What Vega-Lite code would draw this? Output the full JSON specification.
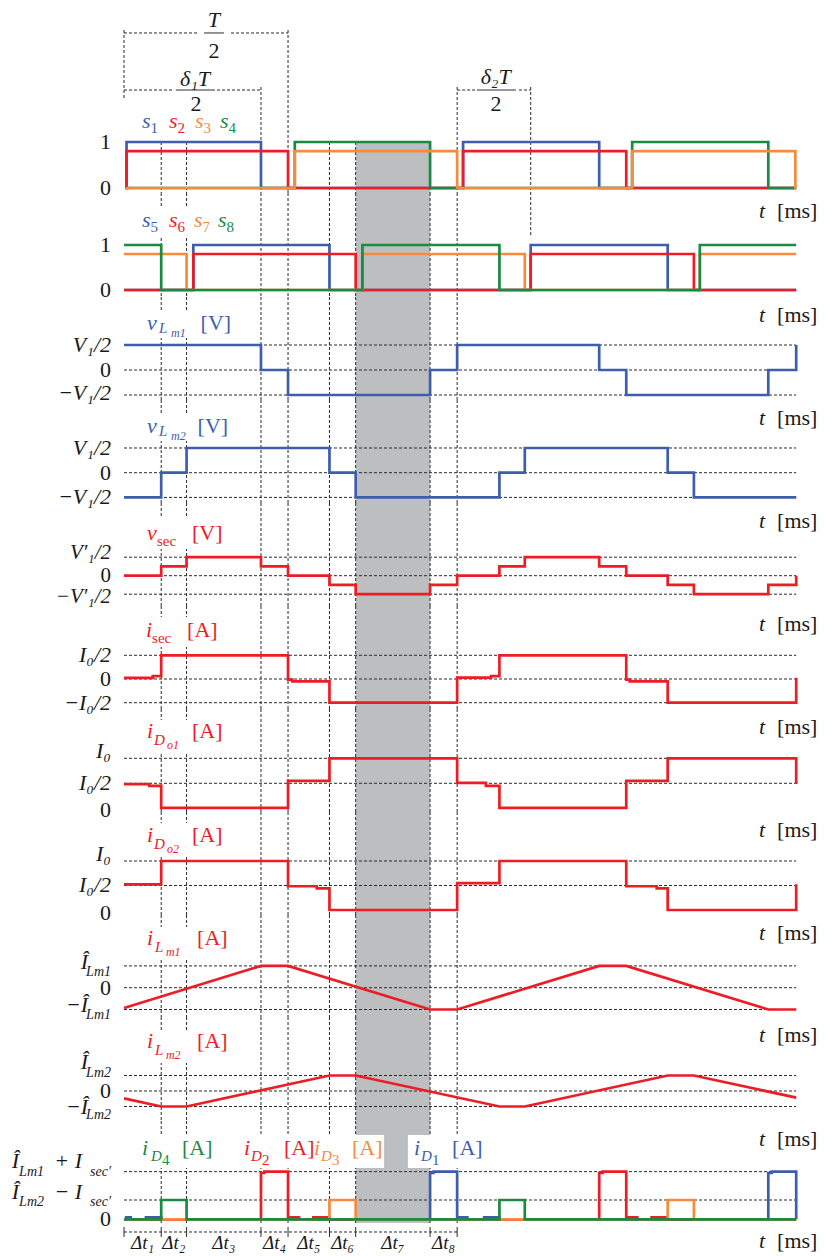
{
"$schema":"https://vega.github.io/schema/vega-lite/v6.json",
"padding":{"left":11,"top":5,"right":0,"bottom":0},
"background":"white",
"spacing":0,
"bounds":"flush",
"config":{"view":{"stroke":null},"text":{"font":"Liberation Serif"}},
"datasets":{
"shade":[{"t":13.7,"t2":18.1}],
"ev":[{"t":2.2,"g":"a"},{"t":3.7,"g":"a"},{"t":8.1,"g":"b"},{"t":9.7,"g":"c"},{"t":12.15,"g":"a"},{"t":13.7,"g":"a"},{"t":18.1,"g":"a"},{"t":19.7,"g":"b"},{"t":24.05,"g":"d"}],
"sig":[
{"p":1,"s":"s1","t":0.1,"v":0},{"p":1,"s":"s1","t":0.15,"v":1},{"p":1,"s":"s1","t":8.1,"v":0},{"p":1,"s":"s1","t":20.05,"v":1},{"p":1,"s":"s1","t":28.1,"v":0},{"p":1,"s":"s1","t":39.75,"v":0},
{"p":1,"s":"s2","t":0.1,"v":0},{"p":1,"s":"s2","t":0.15,"v":0.8},{"p":1,"s":"s2","t":9.7,"v":0},{"p":1,"s":"s2","t":20.05,"v":0.8},{"p":1,"s":"s2","t":29.7,"v":0},{"p":1,"s":"s2","t":39.75,"v":0},
{"p":1,"s":"s4","t":0.1,"v":0},{"p":1,"s":"s4","t":10.1,"v":1},{"p":1,"s":"s4","t":18.1,"v":0},{"p":1,"s":"s4","t":30.05,"v":1},{"p":1,"s":"s4","t":38.1,"v":0},{"p":1,"s":"s4","t":39.75,"v":0},
{"p":1,"s":"s3","t":0.1,"v":0},{"p":1,"s":"s3","t":10.1,"v":0.8},{"p":1,"s":"s3","t":19.7,"v":0},{"p":1,"s":"s3","t":30.05,"v":0.8},{"p":1,"s":"s3","t":39.7,"v":0},{"p":1,"s":"s3","t":39.75,"v":0},
{"p":2,"s":"s5","t":0,"v":0},{"p":2,"s":"s5","t":4.1,"v":1},{"p":2,"s":"s5","t":12.15,"v":0},{"p":2,"s":"s5","t":24.05,"v":1},{"p":2,"s":"s5","t":32.15,"v":0},{"p":2,"s":"s5","t":39.75,"v":0},
{"p":2,"s":"s6","t":0,"v":0},{"p":2,"s":"s6","t":4.1,"v":0.8},{"p":2,"s":"s6","t":13.7,"v":0},{"p":2,"s":"s6","t":24.05,"v":0.8},{"p":2,"s":"s6","t":33.7,"v":0},{"p":2,"s":"s6","t":39.75,"v":0},
{"p":2,"s":"s7","t":0,"v":0.8},{"p":2,"s":"s7","t":3.7,"v":0},{"p":2,"s":"s7","t":14.1,"v":0.8},{"p":2,"s":"s7","t":23.7,"v":0},{"p":2,"s":"s7","t":34.05,"v":0.8},{"p":2,"s":"s7","t":39.75,"v":0.8},
{"p":2,"s":"s8","t":0,"v":1},{"p":2,"s":"s8","t":2.2,"v":0},{"p":2,"s":"s8","t":14.1,"v":1},{"p":2,"s":"s8","t":22.2,"v":0},{"p":2,"s":"s8","t":34.05,"v":1},{"p":2,"s":"s8","t":39.75,"v":1},
{"p":3,"s":"vLm1","t":0,"v":1},{"p":3,"s":"vLm1","t":8.1,"v":0},{"p":3,"s":"vLm1","t":9.7,"v":-1},{"p":3,"s":"vLm1","t":18.1,"v":0},{"p":3,"s":"vLm1","t":19.7,"v":1},{"p":3,"s":"vLm1","t":28.1,"v":0},{"p":3,"s":"vLm1","t":29.7,"v":-1},{"p":3,"s":"vLm1","t":38.1,"v":0},{"p":3,"s":"vLm1","t":39.75,"v":1},
{"p":4,"s":"vLm2","t":0,"v":-1},{"p":4,"s":"vLm2","t":2.2,"v":0},{"p":4,"s":"vLm2","t":3.7,"v":1},{"p":4,"s":"vLm2","t":12.15,"v":0},{"p":4,"s":"vLm2","t":13.7,"v":-1},{"p":4,"s":"vLm2","t":22.2,"v":0},{"p":4,"s":"vLm2","t":23.7,"v":1},{"p":4,"s":"vLm2","t":32.15,"v":0},{"p":4,"s":"vLm2","t":33.7,"v":-1},{"p":4,"s":"vLm2","t":39.75,"v":-1},
{"p":5,"s":"vsec","t":0,"v":0},{"p":5,"s":"vsec","t":2.2,"v":0.5},{"p":5,"s":"vsec","t":3.7,"v":1},{"p":5,"s":"vsec","t":8.1,"v":0.5},{"p":5,"s":"vsec","t":9.7,"v":0},{"p":5,"s":"vsec","t":12.15,"v":-0.5},{"p":5,"s":"vsec","t":13.7,"v":-1},{"p":5,"s":"vsec","t":18.1,"v":-0.5},{"p":5,"s":"vsec","t":19.7,"v":0},{"p":5,"s":"vsec","t":22.2,"v":0.5},{"p":5,"s":"vsec","t":23.7,"v":1},{"p":5,"s":"vsec","t":28.1,"v":0.5},{"p":5,"s":"vsec","t":29.7,"v":0},{"p":5,"s":"vsec","t":32.15,"v":-0.5},{"p":5,"s":"vsec","t":33.7,"v":-1},{"p":5,"s":"vsec","t":38.1,"v":-0.5},{"p":5,"s":"vsec","t":39.75,"v":0},
{"p":6,"s":"isec","t":0,"v":0.05},{"p":6,"s":"isec","t":1.7,"v":0.12},{"p":6,"s":"isec","t":2.2,"v":1},{"p":6,"s":"isec","t":9.7,"v":-0.03},{"p":6,"s":"isec","t":9.95,"v":-0.1},{"p":6,"s":"isec","t":12.15,"v":-1},{"p":6,"s":"isec","t":19.7,"v":0.06},{"p":6,"s":"isec","t":21.7,"v":0.12},{"p":6,"s":"isec","t":22.2,"v":1},{"p":6,"s":"isec","t":29.7,"v":-0.03},{"p":6,"s":"isec","t":29.9,"v":-0.1},{"p":6,"s":"isec","t":32.15,"v":-1},{"p":6,"s":"isec","t":39.75,"v":0.05},
{"p":7,"s":"iDo1","t":0,"v":0.97},{"p":7,"s":"iDo1","t":1.5,"v":0.9},{"p":7,"s":"iDo1","t":2.2,"v":0.02},{"p":7,"s":"iDo1","t":9.7,"v":1.1},{"p":7,"s":"iDo1","t":12.15,"v":2},{"p":7,"s":"iDo1","t":19.7,"v":1.02},{"p":7,"s":"iDo1","t":21.4,"v":0.9},{"p":7,"s":"iDo1","t":22.2,"v":0.02},{"p":7,"s":"iDo1","t":29.7,"v":1.1},{"p":7,"s":"iDo1","t":32.15,"v":2},{"p":7,"s":"iDo1","t":39.75,"v":0.97},
{"p":8,"s":"iDo2","t":0,"v":1.05},{"p":8,"s":"iDo2","t":2.2,"v":2},{"p":8,"s":"iDo2","t":9.7,"v":0.97},{"p":8,"s":"iDo2","t":11.4,"v":0.88},{"p":8,"s":"iDo2","t":12.15,"v":0},{"p":8,"s":"iDo2","t":19.7,"v":1.1},{"p":8,"s":"iDo2","t":22.2,"v":2},{"p":8,"s":"iDo2","t":29.7,"v":0.97},{"p":8,"s":"iDo2","t":31.5,"v":0.88},{"p":8,"s":"iDo2","t":32.15,"v":0},{"p":8,"s":"iDo2","t":39.75,"v":1.05},
{"p":9,"s":"iLm1","t":0,"v":-0.93},{"p":9,"s":"iLm1","t":8.1,"v":1},{"p":9,"s":"iLm1","t":9.7,"v":1},{"p":9,"s":"iLm1","t":18.1,"v":-1},{"p":9,"s":"iLm1","t":19.7,"v":-1},{"p":9,"s":"iLm1","t":28.1,"v":1},{"p":9,"s":"iLm1","t":29.7,"v":1},{"p":9,"s":"iLm1","t":38.1,"v":-1},{"p":9,"s":"iLm1","t":39.75,"v":-1},
{"p":10,"s":"iLm2","t":0,"v":-0.48},{"p":10,"s":"iLm2","t":2.2,"v":-1},{"p":10,"s":"iLm2","t":3.7,"v":-1},{"p":10,"s":"iLm2","t":12.15,"v":1},{"p":10,"s":"iLm2","t":13.7,"v":1},{"p":10,"s":"iLm2","t":22.2,"v":-1},{"p":10,"s":"iLm2","t":23.7,"v":-1},{"p":10,"s":"iLm2","t":32.15,"v":1},{"p":10,"s":"iLm2","t":33.7,"v":1},{"p":10,"s":"iLm2","t":39.75,"v":-0.43},
{"p":11,"s":"iD1","t":0.05,"v":0.1},{"p":11,"s":"iD1","t":0.4,"v":0},{"p":11,"s":"iD1","t":1.3,"v":0.1},{"p":11,"s":"iD1","t":2.2,"v":0},{"p":11,"s":"iD1","t":18.1,"v":2.4},{"p":11,"s":"iD1","t":18.3,"v":2.47},{"p":11,"s":"iD1","t":19.7,"v":0.1},{"p":11,"s":"iD1","t":20.3,"v":0},{"p":11,"s":"iD1","t":21.3,"v":0.1},{"p":11,"s":"iD1","t":22.2,"v":0},{"p":11,"s":"iD1","t":38.1,"v":2.4},{"p":11,"s":"iD1","t":38.3,"v":2.47},{"p":11,"s":"iD1","t":39.75,"v":0},
{"p":11,"s":"iD2","t":0,"v":0},{"p":11,"s":"iD2","t":8.1,"v":2.4},{"p":11,"s":"iD2","t":8.3,"v":2.47},{"p":11,"s":"iD2","t":9.7,"v":0.1},{"p":11,"s":"iD2","t":10.35,"v":0},{"p":11,"s":"iD2","t":11.2,"v":0.1},{"p":11,"s":"iD2","t":12.15,"v":0},{"p":11,"s":"iD2","t":28.1,"v":2.4},{"p":11,"s":"iD2","t":28.3,"v":2.47},{"p":11,"s":"iD2","t":29.7,"v":0.1},{"p":11,"s":"iD2","t":30.35,"v":0},{"p":11,"s":"iD2","t":31.2,"v":0.1},{"p":11,"s":"iD2","t":32.15,"v":0},{"p":11,"s":"iD2","t":39.75,"v":0},
{"p":11,"s":"iD3","t":0,"v":0},{"p":11,"s":"iD3","t":12.15,"v":1},{"p":11,"s":"iD3","t":13.7,"v":0},{"p":11,"s":"iD3","t":32.15,"v":1},{"p":11,"s":"iD3","t":33.7,"v":0},{"p":11,"s":"iD3","t":39.75,"v":0},
{"p":11,"s":"iD4","t":0,"v":0},{"p":11,"s":"iD4","t":2.2,"v":1},{"p":11,"s":"iD4","t":3.7,"v":0},{"p":11,"s":"iD4","t":22.2,"v":1},{"p":11,"s":"iD4","t":23.7,"v":0},{"p":11,"s":"iD4","t":39.75,"v":0}
],
"lev":[
{"p":3,"v":1,"t":0,"t2":39.75},{"p":3,"v":0,"t":0,"t2":39.75},{"p":3,"v":-1,"t":0,"t2":39.75},
{"p":4,"v":1,"t":0,"t2":39.75},{"p":4,"v":0,"t":0,"t2":39.75},{"p":4,"v":-1,"t":0,"t2":39.75},
{"p":5,"v":1,"t":0,"t2":39.75},{"p":5,"v":0,"t":0,"t2":39.75},{"p":5,"v":-1,"t":0,"t2":39.75},
{"p":6,"v":1,"t":0,"t2":39.75},{"p":6,"v":0,"t":0,"t2":39.75},{"p":6,"v":-1,"t":0,"t2":39.75},
{"p":7,"v":2,"t":0,"t2":39.75},{"p":7,"v":1,"t":0,"t2":39.75},
{"p":8,"v":2,"t":0,"t2":39.75},{"p":8,"v":1,"t":0,"t2":39.75},
{"p":9,"v":1,"t":0,"t2":39.75},{"p":9,"v":0,"t":0,"t2":39.75},{"p":9,"v":-1,"t":0,"t2":39.75},
{"p":10,"v":1,"t":0,"t2":39.75},{"p":10,"v":0,"t":0,"t2":39.75},{"p":10,"v":-1,"t":0,"t2":39.75},
{"p":11,"v":2.47,"t":0,"t2":39.75},{"p":11,"v":1,"t":0,"t2":39.75}
],
"yl":[
{"p":1,"t":0,"v":1,"txt":"1","k":"z"},{"p":1,"t":0,"v":0,"txt":"0","k":"z"},
{"p":2,"t":0,"v":1,"txt":"1","k":"z"},{"p":2,"t":0,"v":0,"txt":"0","k":"z"},
{"p":3,"t":0,"v":1,"txt":"V₁/2","k":"a"},{"p":3,"t":0,"v":0,"txt":"0","k":"z"},{"p":3,"t":0,"v":-0.92,"txt":"−V₁/2","k":"a"},
{"p":4,"t":0,"v":1,"txt":"V₁/2","k":"a"},{"p":4,"t":0,"v":0,"txt":"0","k":"z"},{"p":4,"t":0,"v":-1,"txt":"−V₁/2","k":"a"},
{"p":5,"t":0,"v":1.25,"txt":"V′₁/2","k":"a"},{"p":5,"t":0,"v":0,"txt":"0","k":"z"},{"p":5,"t":0,"v":-1.15,"txt":"−V′₁/2","k":"a"},
{"p":6,"t":0,"v":1,"txt":"I₀/2","k":"a"},{"p":6,"t":0,"v":0,"txt":"0","k":"z"},{"p":6,"t":0,"v":-1,"txt":"−I₀/2","k":"a"},
{"p":7,"t":0,"v":2.3,"txt":"I₀","k":"a"},{"p":7,"t":0,"v":1,"txt":"I₀/2","k":"a"},{"p":7,"t":0,"v":-0.05,"txt":"0","k":"z"},
{"p":8,"t":0,"v":2.3,"txt":"I₀","k":"a"},{"p":8,"t":0,"v":1.02,"txt":"I₀/2","k":"a"},{"p":8,"t":0,"v":-0.12,"txt":"0","k":"z"},
{"p":9,"t":0,"v":1.18,"txt":"Î","k":"c"},{"p":9,"t":0,"v":0.72,"txt":"Lm1","k":"b"},{"p":9,"t":0,"v":0,"txt":"0","k":"z"},{"p":9,"t":0,"v":-0.79,"txt":"−Î","k":"c"},{"p":9,"t":0,"v":-1.25,"txt":"Lm1","k":"b"},
{"p":10,"t":0,"v":1.87,"txt":"Î","k":"c"},{"p":10,"t":0,"v":1.16,"txt":"Lm2","k":"b"},{"p":10,"t":0,"v":0,"txt":"0","k":"z"},{"p":10,"t":0,"v":-1.03,"txt":"−Î","k":"c"},{"p":10,"t":0,"v":-1.55,"txt":"Lm2","k":"b"},
{"p":11,"t":0,"v":3.02,"txt":"Î","k":"d"},{"p":11,"t":0,"v":2.45,"txt":"Lm1","k":"e"},{"p":11,"t":0,"v":3.02,"txt":"+ I","k":"f"},{"p":11,"t":0,"v":2.45,"txt":"sec′","k":"b"},
{"p":11,"t":0,"v":1.42,"txt":"Î","k":"d"},{"p":11,"t":0,"v":0.89,"txt":"Lm2","k":"e"},{"p":11,"t":0,"v":1.42,"txt":"− I","k":"f"},{"p":11,"t":0,"v":0.89,"txt":"sec′","k":"b"},
{"p":11,"t":0,"v":0,"txt":"0","k":"z"}
],
"ann":[
{"p":1,"t":5.32,"v":3.5,"txt":"T","k":"c","s":"blk"},{"p":1,"t":5.32,"v":2.826,"txt":"2","k":"cn","s":"blk"},
{"p":1,"t":4.2,"v":2.217,"txt":"δ₁T","k":"c","s":"blk"},{"p":1,"t":4.26,"v":1.674,"txt":"2","k":"cn","s":"blk"},
{"p":1,"t":21.98,"v":2.261,"txt":"δ₂T","k":"c","s":"blk"},{"p":1,"t":22.0,"v":1.674,"txt":"2","k":"cn","s":"blk"},
{"p":1,"t":1.06,"v":1.304,"txt":"s","k":"m","s":"s1"},{"p":1,"t":1.56,"v":1.195,"txt":"1","k":"sn","s":"s1"},
{"p":1,"t":2.66,"v":1.304,"txt":"s","k":"m","s":"s2"},{"p":1,"t":3.16,"v":1.195,"txt":"2","k":"sn","s":"s2"},
{"p":1,"t":4.2,"v":1.304,"txt":"s","k":"m","s":"s3"},{"p":1,"t":4.7,"v":1.195,"txt":"3","k":"sn","s":"s3"},
{"p":1,"t":5.68,"v":1.304,"txt":"s","k":"m","s":"s4"},{"p":1,"t":6.18,"v":1.195,"txt":"4","k":"sn","s":"s4"},
{"p":1,"t":37.55,"v":-0.652,"txt":"t","k":"m","s":"blk"},{"p":1,"t":38.62,"v":-0.652,"txt":"[ms]","k":"mn","s":"blk"},
{"p":2,"t":1.06,"v":1.4,"txt":"s","k":"m","s":"s5"},{"p":2,"t":1.56,"v":1.289,"txt":"5","k":"sn","s":"s5"},
{"p":2,"t":2.66,"v":1.4,"txt":"s","k":"m","s":"s6"},{"p":2,"t":3.16,"v":1.289,"txt":"6","k":"sn","s":"s6"},
{"p":2,"t":4.14,"v":1.4,"txt":"s","k":"m","s":"s7"},{"p":2,"t":4.64,"v":1.289,"txt":"7","k":"sn","s":"s7"},
{"p":2,"t":5.56,"v":1.4,"txt":"s","k":"m","s":"s8"},{"p":2,"t":6.06,"v":1.289,"txt":"8","k":"sn","s":"s8"},
{"p":2,"t":37.55,"v":-0.711,"txt":"t","k":"m","s":"blk"},{"p":2,"t":38.62,"v":-0.711,"txt":"[ms]","k":"mn","s":"blk"},
{"p":3,"t":1.36,"v":1.6,"txt":"v","k":"m","s":"vLm1"},{"p":3,"t":2.07,"v":1.48,"txt":"L","k":"s","s":"vLm1"},{"p":3,"t":2.78,"v":1.32,"txt":"m1","k":"ss","s":"vLm1"},{"p":3,"t":4.53,"v":1.6,"txt":"[V]","k":"mn","s":"vLm1"},
{"p":3,"t":37.55,"v":-2.2,"txt":"t","k":"m","s":"blk"},{"p":3,"t":38.62,"v":-2.2,"txt":"[ms]","k":"mn","s":"blk"},
{"p":4,"t":1.36,"v":1.607,"txt":"v","k":"m","s":"vLm2"},{"p":4,"t":2.07,"v":1.486,"txt":"L","k":"s","s":"vLm2"},{"p":4,"t":2.78,"v":1.324,"txt":"m2","k":"ss","s":"vLm2"},{"p":4,"t":4.35,"v":1.607,"txt":"[V]","k":"mn","s":"vLm2"},
{"p":4,"t":37.55,"v":-2.239,"txt":"t","k":"m","s":"blk"},{"p":4,"t":38.62,"v":-2.239,"txt":"[ms]","k":"mn","s":"blk"},
{"p":5,"t":1.36,"v":1.93,"txt":"v","k":"m","s":"vsec"},{"p":5,"t":1.95,"v":1.6,"txt":"sec","k":"sn","s":"vsec"},{"p":5,"t":4.02,"v":1.93,"txt":"[V]","k":"mn","s":"vsec"},
{"p":5,"t":37.55,"v":-2.989,"txt":"t","k":"m","s":"blk"},{"p":5,"t":38.62,"v":-2.989,"txt":"[ms]","k":"mn","s":"blk"},
{"p":6,"t":1.3,"v":1.772,"txt":"i","k":"m","s":"isec"},{"p":6,"t":1.66,"v":1.519,"txt":"sec","k":"sn","s":"isec"},{"p":6,"t":3.73,"v":1.772,"txt":"[A]","k":"mn","s":"isec"},
{"p":6,"t":37.55,"v":-2.321,"txt":"t","k":"m","s":"blk"},{"p":6,"t":38.62,"v":-2.321,"txt":"[ms]","k":"mn","s":"blk"},
{"p":7,"t":1.36,"v":2.812,"txt":"i","k":"m","s":"iDo1"},{"p":7,"t":1.77,"v":2.532,"txt":"D","k":"s","s":"iDo1"},{"p":7,"t":2.54,"v":2.372,"txt":"o1","k":"ss","s":"iDo1"},{"p":7,"t":4.02,"v":2.812,"txt":"[A]","k":"mn","s":"iDo1"},
{"p":7,"t":37.55,"v":-1.148,"txt":"t","k":"m","s":"blk"},{"p":7,"t":38.62,"v":-1.148,"txt":"[ms]","k":"mn","s":"blk"},
{"p":8,"t":1.36,"v":2.776,"txt":"i","k":"m","s":"iDo2"},{"p":8,"t":1.77,"v":2.49,"txt":"D","k":"s","s":"iDo2"},{"p":8,"t":2.54,"v":2.327,"txt":"o2","k":"ss","s":"iDo2"},{"p":8,"t":4.02,"v":2.776,"txt":"[A]","k":"mn","s":"iDo2"},
{"p":8,"t":37.55,"v":-1.224,"txt":"t","k":"m","s":"blk"},{"p":8,"t":38.62,"v":-1.224,"txt":"[ms]","k":"mn","s":"blk"},
{"p":9,"t":1.36,"v":1.959,"txt":"i","k":"m","s":"iLm1"},{"p":9,"t":1.83,"v":1.638,"txt":"L","k":"s","s":"iLm1"},{"p":9,"t":2.48,"v":1.454,"txt":"m1","k":"ss","s":"iLm1"},{"p":9,"t":4.32,"v":1.959,"txt":"[A]","k":"mn","s":"iLm1"},
{"p":9,"t":37.55,"v":-2.491,"txt":"t","k":"m","s":"blk"},{"p":9,"t":38.62,"v":-2.491,"txt":"[ms]","k":"mn","s":"blk"},
{"p":10,"t":1.36,"v":2.774,"txt":"i","k":"m","s":"iLm2"},{"p":10,"t":1.83,"v":2.323,"txt":"L","k":"s","s":"iLm2"},{"p":10,"t":2.48,"v":2.065,"txt":"m2","k":"ss","s":"iLm2"},{"p":10,"t":4.32,"v":2.774,"txt":"[A]","k":"mn","s":"iLm2"},
{"p":10,"t":37.55,"v":-3.548,"txt":"t","k":"m","s":"blk"},{"p":10,"t":38.62,"v":-3.548,"txt":"[ms]","k":"mn","s":"blk"},
{"p":11,"t":1.06,"v":3.332,"txt":"i","k":"m","s":"iD4"},{"p":11,"t":1.6,"v":3.021,"txt":"D","k":"s","s":"iD4"},{"p":11,"t":2.25,"v":2.813,"txt":"4","k":"sn","s":"iD4"},{"p":11,"t":3.43,"v":3.332,"txt":"[A]","k":"mn","s":"iD4"},
{"p":11,"t":7.1,"v":3.332,"txt":"i","k":"m","s":"iD2"},{"p":11,"t":7.51,"v":3.021,"txt":"D","k":"s","s":"iD2"},{"p":11,"t":8.16,"v":2.813,"txt":"2","k":"sn","s":"iD2"},{"p":11,"t":9.46,"v":3.332,"txt":"[A]","k":"mn","s":"iD2"},
{"p":11,"t":11.24,"v":3.332,"txt":"i","k":"m","s":"iD3"},{"p":11,"t":11.65,"v":3.021,"txt":"D","k":"s","s":"iD3"},{"p":11,"t":12.3,"v":2.813,"txt":"3","k":"sn","s":"iD3"},{"p":11,"t":13.48,"v":3.332,"txt":"[A]","k":"mn","s":"iD3"},
{"p":11,"t":17.15,"v":3.332,"txt":"i","k":"m","s":"iD1"},{"p":11,"t":17.56,"v":3.021,"txt":"D","k":"s","s":"iD1"},{"p":11,"t":18.21,"v":2.813,"txt":"1","k":"sn","s":"iD1"},{"p":11,"t":19.4,"v":3.332,"txt":"[A]","k":"mn","s":"iD1"},
{"p":11,"t":37.55,"v":-1.487,"txt":"t","k":"m","s":"blk"},{"p":11,"t":38.62,"v":-1.487,"txt":"[ms]","k":"mn","s":"blk"},
{"p":11,"t":1.1,"v":-1.54,"txt":"Δt₁","k":"d","s":"blk"},{"p":11,"t":2.95,"v":-1.54,"txt":"Δt₂","k":"d","s":"blk"},{"p":11,"t":5.9,"v":-1.54,"txt":"Δt₃","k":"d","s":"blk"},{"p":11,"t":8.9,"v":-1.54,"txt":"Δt₄","k":"d","s":"blk"},
{"p":11,"t":10.93,"v":-1.54,"txt":"Δt₅","k":"d","s":"blk"},{"p":11,"t":12.93,"v":-1.54,"txt":"Δt₆","k":"d","s":"blk"},{"p":11,"t":15.9,"v":-1.54,"txt":"Δt₇","k":"d","s":"blk"},{"p":11,"t":18.9,"v":-1.54,"txt":"Δt₈","k":"d","s":"blk"}
],
"box":[
{"p":2,"t":0.89,"t2":6.6,"v":1.844,"v2":1.178},
{"p":3,"t":1.06,"t2":6.39,"v":2.4,"v2":1.28},
{"p":4,"t":1.06,"t2":6.21,"v":2.42,"v2":1.28},
{"p":5,"t":1.06,"t2":5.91,"v":3.23,"v2":1.44},
{"p":6,"t":1.06,"t2":5.38,"v":2.62,"v2":1.35},
{"p":7,"t":1.06,"t2":5.8,"v":3.53,"v2":2.22},
{"p":8,"t":1.06,"t2":5.8,"v":3.55,"v2":2.2},
{"p":9,"t":1.06,"t2":5.97,"v":2.79,"v2":1.27},
{"p":10,"t":1.06,"t2":5.97,"v":3.94,"v2":1.81},
{"p":11,"t":0.95,"t2":5.26,"v":4.37,"v2":2.66},
{"p":11,"t":6.86,"t2":11.12,"v":4.37,"v2":2.66},
{"p":11,"t":11.12,"t2":15.38,"v":4.37,"v2":2.66},
{"p":11,"t":16.79,"t2":21.23,"v":4.37,"v2":2.66}
],
"br":[
{"p":1,"t":0,"t2":4.43,"v":3.37,"v2":3.37,"k":"d"},{"p":1,"t":6.33,"t2":9.7,"v":3.37,"v2":3.37,"k":"d"},{"p":1,"t":4.73,"t2":5.91,"v":3.37,"v2":3.37,"k":"s"},
{"p":1,"t":0,"t2":2.96,"v":2.13,"v2":2.13,"k":"d"},{"p":1,"t":5.5,"t2":8.1,"v":2.13,"v2":2.13,"k":"d"},{"p":1,"t":3.07,"t2":5.38,"v":2.13,"v2":2.13,"k":"s"},
{"p":1,"t":19.7,"t2":20.82,"v":2.13,"v2":2.13,"k":"d"},{"p":1,"t":23.36,"t2":24.05,"v":2.13,"v2":2.13,"k":"d"},{"p":1,"t":20.87,"t2":23.18,"v":2.13,"v2":2.13,"k":"s"},
{"p":1,"t":0,"t2":0,"v":3.435,"v2":1.913,"k":"d"},
{"p":11,"t":0,"t2":19.7,"v":-0.658,"v2":-0.658,"k":"d"},
{"p":11,"t":0,"t2":0,"v":-0.399,"v2":-0.917,"k":"s"},{"p":11,"t":2.2,"t2":2.2,"v":-0.399,"v2":-0.917,"k":"s"},{"p":11,"t":3.7,"t2":3.7,"v":-0.399,"v2":-0.917,"k":"s"},
{"p":11,"t":8.1,"t2":8.1,"v":-0.399,"v2":-0.917,"k":"s"},{"p":11,"t":9.7,"t2":9.7,"v":-0.399,"v2":-0.917,"k":"s"},{"p":11,"t":12.15,"t2":12.15,"v":-0.399,"v2":-0.917,"k":"s"},
{"p":11,"t":13.7,"t2":13.7,"v":-0.399,"v2":-0.917,"k":"s"},{"p":11,"t":18.1,"t2":18.1,"v":-0.399,"v2":-0.917,"k":"s"},{"p":11,"t":19.7,"t2":19.7,"v":-0.399,"v2":-0.917,"k":"s"}
]
},
"vconcat":[
{"width":704,"height":188,
"encoding":{"x":{"field":"t","type":"quantitative","axis":null,"scale":{"domain":[0,41.63],"nice":false,"zero":false}}},
"layer":[
{"data":{"name":"shade"},"mark":{"type":"rect","color":"#bcbec0"},"encoding":{"x2":{"field":"t2"},"y":{"datum":1,"axis":null},"y2":{"datum":-0.1087}}},
{"data":{"name":"ev"},"transform":[{"filter":"datum.g=='a'"}],"mark":{"type":"rule","color":"#2a2a2a","strokeWidth":1,"strokeDash":[3,2]},"encoding":{"y":{"datum":1,"axis":null},"y2":{"datum":-0.1087}}},
{"data":{"name":"ev"},"transform":[{"filter":"datum.g=='b'||datum.g=='d'"}],"mark":{"type":"rule","color":"#2a2a2a","strokeWidth":1,"strokeDash":[3,2]},"encoding":{"y":{"datum":2.196,"axis":null},"y2":{"datum":-0.1087}}},
{"data":{"name":"ev"},"transform":[{"filter":"datum.g=='c'"}],"mark":{"type":"rule","color":"#2a2a2a","strokeWidth":1,"strokeDash":[3,2]},"encoding":{"y":{"datum":3.435,"axis":null},"y2":{"datum":-0.1087}}},
{"data":{"name":"br"},"transform":[{"filter":"datum.p==1"}],"mark":{"type":"rule","color":"#2a2a2a","strokeWidth":1},"encoding":{"x2":{"field":"t2"},"y":{"field":"v","type":"quantitative","axis":null},"y2":{"field":"v2"},"strokeDash":{"field":"k","type":"nominal","legend":null,"scale":{"domain":["d","s"],"range":[[3,2],[1,0]]}}}},
{"data":{"name":"sig"},"transform":[{"filter":"datum.p==1"}],"mark":{"type":"line","interpolate":"step-after","strokeWidth":2.7},"encoding":{"y":{"field":"v","type":"quantitative","axis":null,"scale":{"domain":[-0.1087,3.9783],"nice":false,"zero":false}},"color":{"field":"s","type":"nominal","legend":null,"scale":{"domain":["s1","s2","s3","s4","s5","s6","s7","s8","vLm1","vLm2","vsec","isec","iDo1","iDo2","iLm1","iLm2","iD1","iD2","iD3","iD4","blk"],"range":["#3e5ead","#ec1d25","#f68b3c","#1b8a43","#3e5ead","#ec1d25","#f68b3c","#1b8a43","#3e5ead","#3e5ead","#ec1d25","#ec1d25","#ec1d25","#ec1d25","#ec1d25","#ec1d25","#3e5ead","#ec1d25","#f68b3c","#1b8a43","#1a1a1a"]}}}},
{"data":{"values":[{}]},"mark":{"type":"rule","color":"#111","strokeWidth":3},"encoding":{"x":{"datum":0,"axis":null},"x2":{"datum":41.2},"y":{"datum":-0.0761,"axis":null}}},
{"data":{"values":[{}]},"mark":{"type":"rule","color":"#111","strokeWidth":3},"encoding":{"x":{"datum":0,"axis":null},"y":{"datum":-0.0761,"axis":null},"y2":{"datum":1.761}}},
{"data":{"values":[{}]},"mark":{"type":"point","shape":"M1,0L-0.9,-0.6L-0.45,0L-0.9,0.6Z","filled":true,"opacity":1,"color":"#111","size":170,"strokeWidth":0},"encoding":{"x":{"datum":41.2,"axis":null},"y":{"datum":-0.0761,"axis":null}}},
{"data":{"values":[{}]},"mark":{"type":"point","shape":"M0,-1L0.6,0.9L0,0.45L-0.6,0.9Z","filled":true,"opacity":1,"color":"#111","size":170,"strokeWidth":0},"encoding":{"x":{"datum":0,"axis":null},"y":{"datum":1.761,"axis":null}}},
{"data":{"name":"yl"},"transform":[{"filter":"datum.p==1"}],"mark":{"type":"text","align":"right","baseline":"middle","font":"Liberation Serif","color":"#1a1a1a","dx":{"expr":"datum.k=='c'?-36:datum.k=='d'?-105:datum.k=='e'?-80:datum.k=='f'?-42:-13"},"fontSize":{"expr":"(datum.k=='b'||datum.k=='e')?14:22"},"fontStyle":{"expr":"datum.k=='z'?'normal':'italic'"}},"encoding":{"y":{"field":"v","type":"quantitative","axis":null},"text":{"field":"txt"}}},
{"data":{"name":"ann"},"transform":[{"filter":"datum.p==1"}],"mark":{"type":"text","baseline":"alphabetic","font":"Liberation Serif","align":{"expr":"(datum.k=='c'||datum.k=='cn'||datum.k=='d')?'center':'left'"},"fontSize":{"expr":"(datum.k=='s'||datum.k=='sn')?15:datum.k=='ss'?12:datum.k=='d'?19:22"},"fontStyle":{"expr":"(datum.k=='mn'||datum.k=='sn'||datum.k=='cn')?'normal':'italic'"}},"encoding":{"y":{"field":"v","type":"quantitative","axis":null},"text":{"field":"txt"},"color":{"field":"s","type":"nominal","legend":null}}}
]},
{"width":704,"height":104,
"encoding":{"x":{"field":"t","type":"quantitative","axis":null,"scale":{"domain":[0,41.63],"nice":false,"zero":false}}},
"layer":[
{"data":{"name":"shade"},"mark":{"type":"rect","color":"#bcbec0"},"encoding":{"x2":{"field":"t2"}}},
{"data":{"name":"ev"},"transform":[{"filter":"datum.g!='d'"}],"mark":{"type":"rule","color":"#2a2a2a","strokeWidth":1,"strokeDash":[3,2]},"encoding":{}},
{"data":{"name":"ev"},"transform":[{"filter":"datum.g=='d'"}],"mark":{"type":"rule","color":"#2a2a2a","strokeWidth":1,"strokeDash":[3,2]},"encoding":{"y":{"datum":1.22,"axis":null},"y2":{"datum":2.1556}}},
{"data":{"name":"box"},"transform":[{"filter":"datum.p==2"}],"mark":{"type":"rect","color":"white"},"encoding":{"x2":{"field":"t2"},"y":{"field":"v","type":"quantitative","axis":null},"y2":{"field":"v2"}}},
{"data":{"name":"sig"},"transform":[{"filter":"datum.p==2"}],"mark":{"type":"line","interpolate":"step-after","strokeWidth":2.7},"encoding":{"y":{"field":"v","type":"quantitative","axis":null,"scale":{"domain":[-0.1556,2.1556],"nice":false,"zero":false}},"color":{"field":"s","type":"nominal","legend":null,"scale":{"domain":["s1","s2","s3","s4","s5","s6","s7","s8","vLm1","vLm2","vsec","isec","iDo1","iDo2","iLm1","iLm2","iD1","iD2","iD3","iD4","blk"],"range":["#3e5ead","#ec1d25","#f68b3c","#1b8a43","#3e5ead","#ec1d25","#f68b3c","#1b8a43","#3e5ead","#3e5ead","#ec1d25","#ec1d25","#ec1d25","#ec1d25","#ec1d25","#ec1d25","#3e5ead","#ec1d25","#f68b3c","#1b8a43","#1a1a1a"]}}}},
{"data":{"values":[{}]},"mark":{"type":"rule","color":"#111","strokeWidth":3},"encoding":{"x":{"datum":0,"axis":null},"x2":{"datum":41.2},"y":{"datum":-0.1222,"axis":null}}},
{"data":{"values":[{}]},"mark":{"type":"rule","color":"#111","strokeWidth":3},"encoding":{"x":{"datum":0,"axis":null},"y":{"datum":-0.1222,"axis":null},"y2":{"datum":1.778}}},
{"data":{"values":[{}]},"mark":{"type":"point","shape":"M1,0L-0.9,-0.6L-0.45,0L-0.9,0.6Z","filled":true,"opacity":1,"color":"#111","size":170,"strokeWidth":0},"encoding":{"x":{"datum":41.2,"axis":null},"y":{"datum":-0.1222,"axis":null}}},
{"data":{"values":[{}]},"mark":{"type":"point","shape":"M0,-1L0.6,0.9L0,0.45L-0.6,0.9Z","filled":true,"opacity":1,"color":"#111","size":170,"strokeWidth":0},"encoding":{"x":{"datum":0,"axis":null},"y":{"datum":1.778,"axis":null}}},
{"data":{"name":"yl"},"transform":[{"filter":"datum.p==2"}],"mark":{"type":"text","align":"right","baseline":"middle","font":"Liberation Serif","color":"#1a1a1a","dx":{"expr":"datum.k=='c'?-36:datum.k=='d'?-105:datum.k=='e'?-80:datum.k=='f'?-42:-13"},"fontSize":{"expr":"(datum.k=='b'||datum.k=='e')?14:22"},"fontStyle":{"expr":"datum.k=='z'?'normal':'italic'"}},"encoding":{"y":{"field":"v","type":"quantitative","axis":null},"text":{"field":"txt"}}},
{"data":{"name":"ann"},"transform":[{"filter":"datum.p==2"}],"mark":{"type":"text","baseline":"alphabetic","font":"Liberation Serif","align":{"expr":"(datum.k=='c'||datum.k=='cn'||datum.k=='d')?'center':'left'"},"fontSize":{"expr":"(datum.k=='s'||datum.k=='sn')?15:datum.k=='ss'?12:datum.k=='d'?19:22"},"fontStyle":{"expr":"(datum.k=='mn'||datum.k=='sn'||datum.k=='cn')?'normal':'italic'"}},"encoding":{"y":{"field":"v","type":"quantitative","axis":null},"text":{"field":"txt"},"color":{"field":"s","type":"nominal","legend":null}}}
]},
{"width":704,"height":103,
"encoding":{"x":{"field":"t","type":"quantitative","axis":null,"scale":{"domain":[0,41.63],"nice":false,"zero":false}}},
"layer":[
{"data":{"name":"shade"},"mark":{"type":"rect","color":"#bcbec0"},"encoding":{"x2":{"field":"t2"}}},
{"data":{"name":"ev"},"transform":[{"filter":"datum.g!='d'"}],"mark":{"type":"rule","color":"#2a2a2a","strokeWidth":1,"strokeDash":[3,2]},"encoding":{}},
{"data":{"name":"box"},"transform":[{"filter":"datum.p==3"}],"mark":{"type":"rect","color":"white"},"encoding":{"x2":{"field":"t2"},"y":{"field":"v","type":"quantitative","axis":null},"y2":{"field":"v2"}}},
{"data":{"name":"lev"},"transform":[{"filter":"datum.p==3"}],"mark":{"type":"rule","color":"#2a2a2a","strokeWidth":1,"strokeDash":[3,2]},"encoding":{"x2":{"field":"t2"},"y":{"field":"v","type":"quantitative","axis":null}}},
{"data":{"name":"sig"},"transform":[{"filter":"datum.p==3"}],"mark":{"type":"line","interpolate":"step-after","strokeWidth":2.7},"encoding":{"y":{"field":"v","type":"quantitative","axis":null,"scale":{"domain":[-1.2,2.92],"nice":false,"zero":false}},"color":{"field":"s","type":"nominal","legend":null,"scale":{"domain":["s1","s2","s3","s4","s5","s6","s7","s8","vLm1","vLm2","vsec","isec","iDo1","iDo2","iLm1","iLm2","iD1","iD2","iD3","iD4","blk"],"range":["#3e5ead","#ec1d25","#f68b3c","#1b8a43","#3e5ead","#ec1d25","#f68b3c","#1b8a43","#3e5ead","#3e5ead","#ec1d25","#ec1d25","#ec1d25","#ec1d25","#ec1d25","#ec1d25","#3e5ead","#ec1d25","#f68b3c","#1b8a43","#1a1a1a"]}}}},
{"data":{"values":[{}]},"mark":{"type":"rule","color":"#111","strokeWidth":3},"encoding":{"x":{"datum":0,"axis":null},"x2":{"datum":41.2},"y":{"datum":-1.14,"axis":null}}},
{"data":{"values":[{}]},"mark":{"type":"rule","color":"#111","strokeWidth":3},"encoding":{"x":{"datum":0,"axis":null},"y":{"datum":-1.14,"axis":null},"y2":{"datum":2.24}}},
{"data":{"values":[{}]},"mark":{"type":"point","shape":"M1,0L-0.9,-0.6L-0.45,0L-0.9,0.6Z","filled":true,"opacity":1,"color":"#111","size":170,"strokeWidth":0},"encoding":{"x":{"datum":41.2,"axis":null},"y":{"datum":-1.14,"axis":null}}},
{"data":{"values":[{}]},"mark":{"type":"point","shape":"M0,-1L0.6,0.9L0,0.45L-0.6,0.9Z","filled":true,"opacity":1,"color":"#111","size":170,"strokeWidth":0},"encoding":{"x":{"datum":0,"axis":null},"y":{"datum":2.24,"axis":null}}},
{"data":{"name":"yl"},"transform":[{"filter":"datum.p==3"}],"mark":{"type":"text","align":"right","baseline":"middle","font":"Liberation Serif","color":"#1a1a1a","dx":{"expr":"datum.k=='c'?-36:datum.k=='d'?-105:datum.k=='e'?-80:datum.k=='f'?-42:-13"},"fontSize":{"expr":"(datum.k=='b'||datum.k=='e')?14:22"},"fontStyle":{"expr":"datum.k=='z'?'normal':'italic'"}},"encoding":{"y":{"field":"v","type":"quantitative","axis":null},"text":{"field":"txt"}}},
{"data":{"name":"ann"},"transform":[{"filter":"datum.p==3"}],"mark":{"type":"text","baseline":"alphabetic","font":"Liberation Serif","align":{"expr":"(datum.k=='c'||datum.k=='cn'||datum.k=='d')?'center':'left'"},"fontSize":{"expr":"(datum.k=='s'||datum.k=='sn')?15:datum.k=='ss'?12:datum.k=='d'?19:22"},"fontStyle":{"expr":"(datum.k=='mn'||datum.k=='sn'||datum.k=='cn')?'normal':'italic'"}},"encoding":{"y":{"field":"v","type":"quantitative","axis":null},"text":{"field":"txt"},"color":{"field":"s","type":"nominal","legend":null}}}
]},
{"width":704,"height":103,
"encoding":{"x":{"field":"t","type":"quantitative","axis":null,"scale":{"domain":[0,41.63],"nice":false,"zero":false}}},
"layer":[
{"data":{"name":"shade"},"mark":{"type":"rect","color":"#bcbec0"},"encoding":{"x2":{"field":"t2"}}},
{"data":{"name":"ev"},"transform":[{"filter":"datum.g!='d'"}],"mark":{"type":"rule","color":"#2a2a2a","strokeWidth":1,"strokeDash":[3,2]},"encoding":{}},
{"data":{"name":"box"},"transform":[{"filter":"datum.p==4"}],"mark":{"type":"rect","color":"white"},"encoding":{"x2":{"field":"t2"},"y":{"field":"v","type":"quantitative","axis":null},"y2":{"field":"v2"}}},
{"data":{"name":"lev"},"transform":[{"filter":"datum.p==4"}],"mark":{"type":"rule","color":"#2a2a2a","strokeWidth":1,"strokeDash":[3,2]},"encoding":{"x2":{"field":"t2"},"y":{"field":"v","type":"quantitative","axis":null}}},
{"data":{"name":"sig"},"transform":[{"filter":"datum.p==4"}],"mark":{"type":"line","interpolate":"step-after","strokeWidth":2.7},"encoding":{"y":{"field":"v","type":"quantitative","axis":null,"scale":{"domain":[-1.2267,2.9433],"nice":false,"zero":false}},"color":{"field":"s","type":"nominal","legend":null,"scale":{"domain":["s1","s2","s3","s4","s5","s6","s7","s8","vLm1","vLm2","vsec","isec","iDo1","iDo2","iLm1","iLm2","iD1","iD2","iD3","iD4","blk"],"range":["#3e5ead","#ec1d25","#f68b3c","#1b8a43","#3e5ead","#ec1d25","#f68b3c","#1b8a43","#3e5ead","#3e5ead","#ec1d25","#ec1d25","#ec1d25","#ec1d25","#ec1d25","#ec1d25","#3e5ead","#ec1d25","#f68b3c","#1b8a43","#1a1a1a"]}}}},
{"data":{"values":[{}]},"mark":{"type":"rule","color":"#111","strokeWidth":3},"encoding":{"x":{"datum":0,"axis":null},"x2":{"datum":41.2},"y":{"datum":-1.166,"axis":null}}},
{"data":{"values":[{}]},"mark":{"type":"rule","color":"#111","strokeWidth":3},"encoding":{"x":{"datum":0,"axis":null},"y":{"datum":-1.166,"axis":null},"y2":{"datum":2.255}}},
{"data":{"values":[{}]},"mark":{"type":"point","shape":"M1,0L-0.9,-0.6L-0.45,0L-0.9,0.6Z","filled":true,"opacity":1,"color":"#111","size":170,"strokeWidth":0},"encoding":{"x":{"datum":41.2,"axis":null},"y":{"datum":-1.166,"axis":null}}},
{"data":{"values":[{}]},"mark":{"type":"point","shape":"M0,-1L0.6,0.9L0,0.45L-0.6,0.9Z","filled":true,"opacity":1,"color":"#111","size":170,"strokeWidth":0},"encoding":{"x":{"datum":0,"axis":null},"y":{"datum":2.255,"axis":null}}},
{"data":{"name":"yl"},"transform":[{"filter":"datum.p==4"}],"mark":{"type":"text","align":"right","baseline":"middle","font":"Liberation Serif","color":"#1a1a1a","dx":{"expr":"datum.k=='c'?-36:datum.k=='d'?-105:datum.k=='e'?-80:datum.k=='f'?-42:-13"},"fontSize":{"expr":"(datum.k=='b'||datum.k=='e')?14:22"},"fontStyle":{"expr":"datum.k=='z'?'normal':'italic'"}},"encoding":{"y":{"field":"v","type":"quantitative","axis":null},"text":{"field":"txt"}}},
{"data":{"name":"ann"},"transform":[{"filter":"datum.p==4"}],"mark":{"type":"text","baseline":"alphabetic","font":"Liberation Serif","align":{"expr":"(datum.k=='c'||datum.k=='cn'||datum.k=='d')?'center':'left'"},"fontSize":{"expr":"(datum.k=='s'||datum.k=='sn')?15:datum.k=='ss'?12:datum.k=='d'?19:22"},"fontStyle":{"expr":"(datum.k=='mn'||datum.k=='sn'||datum.k=='cn')?'normal':'italic'"}},"encoding":{"y":{"field":"v","type":"quantitative","axis":null},"text":{"field":"txt"},"color":{"field":"s","type":"nominal","legend":null}}}
]},
{"width":704,"height":103,
"encoding":{"x":{"field":"t","type":"quantitative","axis":null,"scale":{"domain":[0,41.63],"nice":false,"zero":false}}},
"layer":[
{"data":{"name":"shade"},"mark":{"type":"rect","color":"#bcbec0"},"encoding":{"x2":{"field":"t2"}}},
{"data":{"name":"ev"},"transform":[{"filter":"datum.g!='d'"}],"mark":{"type":"rule","color":"#2a2a2a","strokeWidth":1,"strokeDash":[3,2]},"encoding":{}},
{"data":{"name":"box"},"transform":[{"filter":"datum.p==5"}],"mark":{"type":"rect","color":"white"},"encoding":{"x2":{"field":"t2"},"y":{"field":"v","type":"quantitative","axis":null},"y2":{"field":"v2"}}},
{"data":{"name":"lev"},"transform":[{"filter":"datum.p==5"}],"mark":{"type":"rule","color":"#2a2a2a","strokeWidth":1,"strokeDash":[3,2]},"encoding":{"x2":{"field":"t2"},"y":{"field":"v","type":"quantitative","axis":null}}},
{"data":{"name":"sig"},"transform":[{"filter":"datum.p==5"}],"mark":{"type":"line","interpolate":"step-after","strokeWidth":2.7},"encoding":{"y":{"field":"v","type":"quantitative","axis":null,"scale":{"domain":[-1.6378,3.9297],"nice":false,"zero":false}},"color":{"field":"s","type":"nominal","legend":null,"scale":{"domain":["s1","s2","s3","s4","s5","s6","s7","s8","vLm1","vLm2","vsec","isec","iDo1","iDo2","iLm1","iLm2","iD1","iD2","iD3","iD4","blk"],"range":["#3e5ead","#ec1d25","#f68b3c","#1b8a43","#3e5ead","#ec1d25","#f68b3c","#1b8a43","#3e5ead","#3e5ead","#ec1d25","#ec1d25","#ec1d25","#ec1d25","#ec1d25","#ec1d25","#3e5ead","#ec1d25","#f68b3c","#1b8a43","#1a1a1a"]}}}},
{"data":{"values":[{}]},"mark":{"type":"rule","color":"#111","strokeWidth":3},"encoding":{"x":{"datum":0,"axis":null},"x2":{"datum":41.2},"y":{"datum":-1.5567,"axis":null}}},
{"data":{"values":[{}]},"mark":{"type":"rule","color":"#111","strokeWidth":3},"encoding":{"x":{"datum":0,"axis":null},"y":{"datum":-1.5567,"axis":null},"y2":{"datum":3.011}}},
{"data":{"values":[{}]},"mark":{"type":"point","shape":"M1,0L-0.9,-0.6L-0.45,0L-0.9,0.6Z","filled":true,"opacity":1,"color":"#111","size":170,"strokeWidth":0},"encoding":{"x":{"datum":41.2,"axis":null},"y":{"datum":-1.5567,"axis":null}}},
{"data":{"values":[{}]},"mark":{"type":"point","shape":"M0,-1L0.6,0.9L0,0.45L-0.6,0.9Z","filled":true,"opacity":1,"color":"#111","size":170,"strokeWidth":0},"encoding":{"x":{"datum":0,"axis":null},"y":{"datum":3.011,"axis":null}}},
{"data":{"name":"yl"},"transform":[{"filter":"datum.p==5"}],"mark":{"type":"text","align":"right","baseline":"middle","font":"Liberation Serif","color":"#1a1a1a","dx":{"expr":"datum.k=='c'?-36:datum.k=='d'?-105:datum.k=='e'?-80:datum.k=='f'?-42:-13"},"fontSize":{"expr":"(datum.k=='b'||datum.k=='e')?14:21"},"fontStyle":{"expr":"datum.k=='z'?'normal':'italic'"}},"encoding":{"y":{"field":"v","type":"quantitative","axis":null},"text":{"field":"txt"}}},
{"data":{"name":"ann"},"transform":[{"filter":"datum.p==5"}],"mark":{"type":"text","baseline":"alphabetic","font":"Liberation Serif","align":{"expr":"(datum.k=='c'||datum.k=='cn'||datum.k=='d')?'center':'left'"},"fontSize":{"expr":"(datum.k=='s'||datum.k=='sn')?15:datum.k=='ss'?12:datum.k=='d'?19:22"},"fontStyle":{"expr":"(datum.k=='mn'||datum.k=='sn'||datum.k=='cn')?'normal':'italic'"}},"encoding":{"y":{"field":"v","type":"quantitative","axis":null},"text":{"field":"txt"},"color":{"field":"s","type":"nominal","legend":null}}}
]},
{"width":704,"height":103,
"encoding":{"x":{"field":"t","type":"quantitative","axis":null,"scale":{"domain":[0,41.63],"nice":false,"zero":false}}},
"layer":[
{"data":{"name":"shade"},"mark":{"type":"rect","color":"#bcbec0"},"encoding":{"x2":{"field":"t2"}}},
{"data":{"name":"ev"},"transform":[{"filter":"datum.g!='d'"}],"mark":{"type":"rule","color":"#2a2a2a","strokeWidth":1,"strokeDash":[3,2]},"encoding":{}},
{"data":{"name":"box"},"transform":[{"filter":"datum.p==6"}],"mark":{"type":"rect","color":"white"},"encoding":{"x2":{"field":"t2"},"y":{"field":"v","type":"quantitative","axis":null},"y2":{"field":"v2"}}},
{"data":{"name":"lev"},"transform":[{"filter":"datum.p==6"}],"mark":{"type":"rule","color":"#2a2a2a","strokeWidth":1,"strokeDash":[3,2]},"encoding":{"x2":{"field":"t2"},"y":{"field":"v","type":"quantitative","axis":null}}},
{"data":{"name":"sig"},"transform":[{"filter":"datum.p==6"}],"mark":{"type":"line","interpolate":"step-after","strokeWidth":2.7},"encoding":{"y":{"field":"v","type":"quantitative","axis":null,"scale":{"domain":[-1.2658,3.0802],"nice":false,"zero":false}},"color":{"field":"s","type":"nominal","legend":null,"scale":{"domain":["s1","s2","s3","s4","s5","s6","s7","s8","vLm1","vLm2","vsec","isec","iDo1","iDo2","iLm1","iLm2","iD1","iD2","iD3","iD4","blk"],"range":["#3e5ead","#ec1d25","#f68b3c","#1b8a43","#3e5ead","#ec1d25","#f68b3c","#1b8a43","#3e5ead","#3e5ead","#ec1d25","#ec1d25","#ec1d25","#ec1d25","#ec1d25","#ec1d25","#3e5ead","#ec1d25","#f68b3c","#1b8a43","#1a1a1a"]}}}},
{"data":{"values":[{}]},"mark":{"type":"rule","color":"#111","strokeWidth":3},"encoding":{"x":{"datum":0,"axis":null},"x2":{"datum":41.2},"y":{"datum":-1.2025,"axis":null}}},
{"data":{"values":[{}]},"mark":{"type":"rule","color":"#111","strokeWidth":3},"encoding":{"x":{"datum":0,"axis":null},"y":{"datum":-1.2025,"axis":null},"y2":{"datum":2.363}}},
{"data":{"values":[{}]},"mark":{"type":"point","shape":"M1,0L-0.9,-0.6L-0.45,0L-0.9,0.6Z","filled":true,"opacity":1,"color":"#111","size":170,"strokeWidth":0},"encoding":{"x":{"datum":41.2,"axis":null},"y":{"datum":-1.2025,"axis":null}}},
{"data":{"values":[{}]},"mark":{"type":"point","shape":"M0,-1L0.6,0.9L0,0.45L-0.6,0.9Z","filled":true,"opacity":1,"color":"#111","size":170,"strokeWidth":0},"encoding":{"x":{"datum":0,"axis":null},"y":{"datum":2.363,"axis":null}}},
{"data":{"name":"yl"},"transform":[{"filter":"datum.p==6"}],"mark":{"type":"text","align":"right","baseline":"middle","font":"Liberation Serif","color":"#1a1a1a","dx":{"expr":"datum.k=='c'?-36:datum.k=='d'?-105:datum.k=='e'?-80:datum.k=='f'?-42:-13"},"fontSize":{"expr":"(datum.k=='b'||datum.k=='e')?14:22"},"fontStyle":{"expr":"datum.k=='z'?'normal':'italic'"}},"encoding":{"y":{"field":"v","type":"quantitative","axis":null},"text":{"field":"txt"}}},
{"data":{"name":"ann"},"transform":[{"filter":"datum.p==6"}],"mark":{"type":"text","baseline":"alphabetic","font":"Liberation Serif","align":{"expr":"(datum.k=='c'||datum.k=='cn'||datum.k=='d')?'center':'left'"},"fontSize":{"expr":"(datum.k=='s'||datum.k=='sn')?15:datum.k=='ss'?12:datum.k=='d'?19:22"},"fontStyle":{"expr":"(datum.k=='mn'||datum.k=='sn'||datum.k=='cn')?'normal':'italic'"}},"encoding":{"y":{"field":"v","type":"quantitative","axis":null},"text":{"field":"txt"},"color":{"field":"s","type":"nominal","legend":null}}}
]},
{"width":704,"height":103,
"encoding":{"x":{"field":"t","type":"quantitative","axis":null,"scale":{"domain":[0,41.63],"nice":false,"zero":false}}},
"layer":[
{"data":{"name":"shade"},"mark":{"type":"rect","color":"#bcbec0"},"encoding":{"x2":{"field":"t2"}}},
{"data":{"name":"ev"},"transform":[{"filter":"datum.g!='d'"}],"mark":{"type":"rule","color":"#2a2a2a","strokeWidth":1,"strokeDash":[3,2]},"encoding":{}},
{"data":{"name":"box"},"transform":[{"filter":"datum.p==7"}],"mark":{"type":"rect","color":"white"},"encoding":{"x2":{"field":"t2"},"y":{"field":"v","type":"quantitative","axis":null},"y2":{"field":"v2"}}},
{"data":{"name":"lev"},"transform":[{"filter":"datum.p==7"}],"mark":{"type":"rule","color":"#2a2a2a","strokeWidth":1,"strokeDash":[3,2]},"encoding":{"x2":{"field":"t2"},"y":{"field":"v","type":"quantitative","axis":null}}},
{"data":{"name":"sig"},"transform":[{"filter":"datum.p==7"}],"mark":{"type":"line","interpolate":"step-after","strokeWidth":2.7},"encoding":{"y":{"field":"v","type":"quantitative","axis":null,"scale":{"domain":[-0.148,3.972],"nice":false,"zero":false}},"color":{"field":"s","type":"nominal","legend":null,"scale":{"domain":["s1","s2","s3","s4","s5","s6","s7","s8","vLm1","vLm2","vsec","isec","iDo1","iDo2","iLm1","iLm2","iD1","iD2","iD3","iD4","blk"],"range":["#3e5ead","#ec1d25","#f68b3c","#1b8a43","#3e5ead","#ec1d25","#f68b3c","#1b8a43","#3e5ead","#3e5ead","#ec1d25","#ec1d25","#ec1d25","#ec1d25","#ec1d25","#ec1d25","#3e5ead","#ec1d25","#f68b3c","#1b8a43","#1a1a1a"]}}}},
{"data":{"values":[{}]},"mark":{"type":"rule","color":"#111","strokeWidth":3},"encoding":{"x":{"datum":0,"axis":null},"x2":{"datum":41.2},"y":{"datum":-0.088,"axis":null}}},
{"data":{"values":[{}]},"mark":{"type":"rule","color":"#111","strokeWidth":3},"encoding":{"x":{"datum":0,"axis":null},"y":{"datum":-0.088,"axis":null},"y2":{"datum":3.292}}},
{"data":{"values":[{}]},"mark":{"type":"point","shape":"M1,0L-0.9,-0.6L-0.45,0L-0.9,0.6Z","filled":true,"opacity":1,"color":"#111","size":170,"strokeWidth":0},"encoding":{"x":{"datum":41.2,"axis":null},"y":{"datum":-0.088,"axis":null}}},
{"data":{"values":[{}]},"mark":{"type":"point","shape":"M0,-1L0.6,0.9L0,0.45L-0.6,0.9Z","filled":true,"opacity":1,"color":"#111","size":170,"strokeWidth":0},"encoding":{"x":{"datum":0,"axis":null},"y":{"datum":3.292,"axis":null}}},
{"data":{"name":"yl"},"transform":[{"filter":"datum.p==7"}],"mark":{"type":"text","align":"right","baseline":"middle","font":"Liberation Serif","color":"#1a1a1a","dx":{"expr":"datum.k=='c'?-36:datum.k=='d'?-105:datum.k=='e'?-80:datum.k=='f'?-42:-13"},"fontSize":{"expr":"(datum.k=='b'||datum.k=='e')?14:22"},"fontStyle":{"expr":"datum.k=='z'?'normal':'italic'"}},"encoding":{"y":{"field":"v","type":"quantitative","axis":null},"text":{"field":"txt"}}},
{"data":{"name":"ann"},"transform":[{"filter":"datum.p==7"}],"mark":{"type":"text","baseline":"alphabetic","font":"Liberation Serif","align":{"expr":"(datum.k=='c'||datum.k=='cn'||datum.k=='d')?'center':'left'"},"fontSize":{"expr":"(datum.k=='s'||datum.k=='sn')?15:datum.k=='ss'?12:datum.k=='d'?19:22"},"fontStyle":{"expr":"(datum.k=='mn'||datum.k=='sn'||datum.k=='cn')?'normal':'italic'"}},"encoding":{"y":{"field":"v","type":"quantitative","axis":null},"text":{"field":"txt"},"color":{"field":"s","type":"nominal","legend":null}}}
]},
{"width":704,"height":103,
"encoding":{"x":{"field":"t","type":"quantitative","axis":null,"scale":{"domain":[0,41.63],"nice":false,"zero":false}}},
"layer":[
{"data":{"name":"shade"},"mark":{"type":"rect","color":"#bcbec0"},"encoding":{"x2":{"field":"t2"}}},
{"data":{"name":"ev"},"transform":[{"filter":"datum.g!='d'"}],"mark":{"type":"rule","color":"#2a2a2a","strokeWidth":1,"strokeDash":[3,2]},"encoding":{}},
{"data":{"name":"box"},"transform":[{"filter":"datum.p==8"}],"mark":{"type":"rect","color":"white"},"encoding":{"x2":{"field":"t2"},"y":{"field":"v","type":"quantitative","axis":null},"y2":{"field":"v2"}}},
{"data":{"name":"lev"},"transform":[{"filter":"datum.p==8"}],"mark":{"type":"rule","color":"#2a2a2a","strokeWidth":1,"strokeDash":[3,2]},"encoding":{"x2":{"field":"t2"},"y":{"field":"v","type":"quantitative","axis":null}}},
{"data":{"name":"sig"},"transform":[{"filter":"datum.p==8"}],"mark":{"type":"line","interpolate":"step-after","strokeWidth":2.7},"encoding":{"y":{"field":"v","type":"quantitative","axis":null,"scale":{"domain":[-0.2041,4.0],"nice":false,"zero":false}},"color":{"field":"s","type":"nominal","legend":null,"scale":{"domain":["s1","s2","s3","s4","s5","s6","s7","s8","vLm1","vLm2","vsec","isec","iDo1","iDo2","iLm1","iLm2","iD1","iD2","iD3","iD4","blk"],"range":["#3e5ead","#ec1d25","#f68b3c","#1b8a43","#3e5ead","#ec1d25","#f68b3c","#1b8a43","#3e5ead","#3e5ead","#ec1d25","#ec1d25","#ec1d25","#ec1d25","#ec1d25","#ec1d25","#3e5ead","#ec1d25","#f68b3c","#1b8a43","#1a1a1a"]}}}},
{"data":{"values":[{}]},"mark":{"type":"rule","color":"#111","strokeWidth":3},"encoding":{"x":{"datum":0,"axis":null},"x2":{"datum":41.2},"y":{"datum":-0.1429,"axis":null}}},
{"data":{"values":[{}]},"mark":{"type":"rule","color":"#111","strokeWidth":3},"encoding":{"x":{"datum":0,"axis":null},"y":{"datum":-0.1429,"axis":null},"y2":{"datum":3.306}}},
{"data":{"values":[{}]},"mark":{"type":"point","shape":"M1,0L-0.9,-0.6L-0.45,0L-0.9,0.6Z","filled":true,"opacity":1,"color":"#111","size":170,"strokeWidth":0},"encoding":{"x":{"datum":41.2,"axis":null},"y":{"datum":-0.1429,"axis":null}}},
{"data":{"values":[{}]},"mark":{"type":"point","shape":"M0,-1L0.6,0.9L0,0.45L-0.6,0.9Z","filled":true,"opacity":1,"color":"#111","size":170,"strokeWidth":0},"encoding":{"x":{"datum":0,"axis":null},"y":{"datum":3.306,"axis":null}}},
{"data":{"name":"yl"},"transform":[{"filter":"datum.p==8"}],"mark":{"type":"text","align":"right","baseline":"middle","font":"Liberation Serif","color":"#1a1a1a","dx":{"expr":"datum.k=='c'?-36:datum.k=='d'?-105:datum.k=='e'?-80:datum.k=='f'?-42:-13"},"fontSize":{"expr":"(datum.k=='b'||datum.k=='e')?14:22"},"fontStyle":{"expr":"datum.k=='z'?'normal':'italic'"}},"encoding":{"y":{"field":"v","type":"quantitative","axis":null},"text":{"field":"txt"}}},
{"data":{"name":"ann"},"transform":[{"filter":"datum.p==8"}],"mark":{"type":"text","baseline":"alphabetic","font":"Liberation Serif","align":{"expr":"(datum.k=='c'||datum.k=='cn'||datum.k=='d')?'center':'left'"},"fontSize":{"expr":"(datum.k=='s'||datum.k=='sn')?15:datum.k=='ss'?12:datum.k=='d'?19:22"},"fontStyle":{"expr":"(datum.k=='mn'||datum.k=='sn'||datum.k=='cn')?'normal':'italic'"}},"encoding":{"y":{"field":"v","type":"quantitative","axis":null},"text":{"field":"txt"},"color":{"field":"s","type":"nominal","legend":null}}}
]},
{"width":704,"height":102,
"encoding":{"x":{"field":"t","type":"quantitative","axis":null,"scale":{"domain":[0,41.63],"nice":false,"zero":false}}},
"layer":[
{"data":{"name":"shade"},"mark":{"type":"rect","color":"#bcbec0"},"encoding":{"x2":{"field":"t2"}}},
{"data":{"name":"ev"},"transform":[{"filter":"datum.g!='d'"}],"mark":{"type":"rule","color":"#2a2a2a","strokeWidth":1,"strokeDash":[3,2]},"encoding":{}},
{"data":{"name":"box"},"transform":[{"filter":"datum.p==9"}],"mark":{"type":"rect","color":"white"},"encoding":{"x2":{"field":"t2"},"y":{"field":"v","type":"quantitative","axis":null},"y2":{"field":"v2"}}},
{"data":{"name":"lev"},"transform":[{"filter":"datum.p==9"}],"mark":{"type":"rule","color":"#2a2a2a","strokeWidth":1,"strokeDash":[3,2]},"encoding":{"x2":{"field":"t2"},"y":{"field":"v","type":"quantitative","axis":null}}},
{"data":{"name":"sig"},"transform":[{"filter":"datum.p==9"}],"mark":{"type":"line","interpolate":"linear","strokeWidth":2.7},"encoding":{"y":{"field":"v","type":"quantitative","axis":null,"scale":{"domain":[-1.344,3.3349],"nice":false,"zero":false}},"color":{"field":"s","type":"nominal","legend":null,"scale":{"domain":["s1","s2","s3","s4","s5","s6","s7","s8","vLm1","vLm2","vsec","isec","iDo1","iDo2","iLm1","iLm2","iD1","iD2","iD3","iD4","blk"],"range":["#3e5ead","#ec1d25","#f68b3c","#1b8a43","#3e5ead","#ec1d25","#f68b3c","#1b8a43","#3e5ead","#3e5ead","#ec1d25","#ec1d25","#ec1d25","#ec1d25","#ec1d25","#ec1d25","#3e5ead","#ec1d25","#f68b3c","#1b8a43","#1a1a1a"]}}}},
{"data":{"values":[{}]},"mark":{"type":"rule","color":"#111","strokeWidth":3},"encoding":{"x":{"datum":0,"axis":null},"x2":{"datum":41.2},"y":{"datum":-1.2752,"axis":null}}},
{"data":{"values":[{}]},"mark":{"type":"rule","color":"#111","strokeWidth":3},"encoding":{"x":{"datum":0,"axis":null},"y":{"datum":-1.2752,"axis":null},"y2":{"datum":2.555}}},
{"data":{"values":[{}]},"mark":{"type":"point","shape":"M1,0L-0.9,-0.6L-0.45,0L-0.9,0.6Z","filled":true,"opacity":1,"color":"#111","size":170,"strokeWidth":0},"encoding":{"x":{"datum":41.2,"axis":null},"y":{"datum":-1.2752,"axis":null}}},
{"data":{"values":[{}]},"mark":{"type":"point","shape":"M0,-1L0.6,0.9L0,0.45L-0.6,0.9Z","filled":true,"opacity":1,"color":"#111","size":170,"strokeWidth":0},"encoding":{"x":{"datum":0,"axis":null},"y":{"datum":2.555,"axis":null}}},
{"data":{"name":"yl"},"transform":[{"filter":"datum.p==9"}],"mark":{"type":"text","align":"right","baseline":"middle","font":"Liberation Serif","color":"#1a1a1a","dx":{"expr":"datum.k=='c'?-36:datum.k=='d'?-105:datum.k=='e'?-80:datum.k=='f'?-42:-13"},"fontSize":{"expr":"(datum.k=='b'||datum.k=='e')?14:22"},"fontStyle":{"expr":"datum.k=='z'?'normal':'italic'"}},"encoding":{"y":{"field":"v","type":"quantitative","axis":null},"text":{"field":"txt"}}},
{"data":{"name":"ann"},"transform":[{"filter":"datum.p==9"}],"mark":{"type":"text","baseline":"alphabetic","font":"Liberation Serif","align":{"expr":"(datum.k=='c'||datum.k=='cn'||datum.k=='d')?'center':'left'"},"fontSize":{"expr":"(datum.k=='s'||datum.k=='sn')?15:datum.k=='ss'?12:datum.k=='d'?19:22"},"fontStyle":{"expr":"(datum.k=='mn'||datum.k=='sn'||datum.k=='cn')?'normal':'italic'"}},"encoding":{"y":{"field":"v","type":"quantitative","axis":null},"text":{"field":"txt"},"color":{"field":"s","type":"nominal","legend":null}}}
]},
{"width":704,"height":104,
"encoding":{"x":{"field":"t","type":"quantitative","axis":null,"scale":{"domain":[0,41.63],"nice":false,"zero":false}}},
"layer":[
{"data":{"name":"shade"},"mark":{"type":"rect","color":"#bcbec0"},"encoding":{"x2":{"field":"t2"}}},
{"data":{"name":"ev"},"transform":[{"filter":"datum.g!='d'"}],"mark":{"type":"rule","color":"#2a2a2a","strokeWidth":1,"strokeDash":[3,2]},"encoding":{}},
{"data":{"name":"box"},"transform":[{"filter":"datum.p==10"}],"mark":{"type":"rect","color":"white"},"encoding":{"x2":{"field":"t2"},"y":{"field":"v","type":"quantitative","axis":null},"y2":{"field":"v2"}}},
{"data":{"name":"lev"},"transform":[{"filter":"datum.p==10"}],"mark":{"type":"rule","color":"#2a2a2a","strokeWidth":1,"strokeDash":[3,2]},"encoding":{"x2":{"field":"t2"},"y":{"field":"v","type":"quantitative","axis":null}}},
{"data":{"name":"sig"},"transform":[{"filter":"datum.p==10"}],"mark":{"type":"line","interpolate":"linear","strokeWidth":2.7},"encoding":{"y":{"field":"v","type":"quantitative","axis":null,"scale":{"domain":[-1.9355,4.7742],"nice":false,"zero":false}},"color":{"field":"s","type":"nominal","legend":null,"scale":{"domain":["s1","s2","s3","s4","s5","s6","s7","s8","vLm1","vLm2","vsec","isec","iDo1","iDo2","iLm1","iLm2","iD1","iD2","iD3","iD4","blk"],"range":["#3e5ead","#ec1d25","#f68b3c","#1b8a43","#3e5ead","#ec1d25","#f68b3c","#1b8a43","#3e5ead","#3e5ead","#ec1d25","#ec1d25","#ec1d25","#ec1d25","#ec1d25","#ec1d25","#3e5ead","#ec1d25","#f68b3c","#1b8a43","#1a1a1a"]}}}},
{"data":{"values":[{}]},"mark":{"type":"rule","color":"#111","strokeWidth":3},"encoding":{"x":{"datum":0,"axis":null},"x2":{"datum":41.2},"y":{"datum":-1.8387,"axis":null}}},
{"data":{"values":[{}]},"mark":{"type":"rule","color":"#111","strokeWidth":3},"encoding":{"x":{"datum":0,"axis":null},"y":{"datum":-1.8387,"axis":null},"y2":{"datum":3.677}}},
{"data":{"values":[{}]},"mark":{"type":"point","shape":"M1,0L-0.9,-0.6L-0.45,0L-0.9,0.6Z","filled":true,"opacity":1,"color":"#111","size":170,"strokeWidth":0},"encoding":{"x":{"datum":41.2,"axis":null},"y":{"datum":-1.8387,"axis":null}}},
{"data":{"values":[{}]},"mark":{"type":"point","shape":"M0,-1L0.6,0.9L0,0.45L-0.6,0.9Z","filled":true,"opacity":1,"color":"#111","size":170,"strokeWidth":0},"encoding":{"x":{"datum":0,"axis":null},"y":{"datum":3.677,"axis":null}}},
{"data":{"name":"yl"},"transform":[{"filter":"datum.p==10"}],"mark":{"type":"text","align":"right","baseline":"middle","font":"Liberation Serif","color":"#1a1a1a","dx":{"expr":"datum.k=='c'?-36:datum.k=='d'?-105:datum.k=='e'?-80:datum.k=='f'?-42:-13"},"fontSize":{"expr":"(datum.k=='b'||datum.k=='e')?14:22"},"fontStyle":{"expr":"datum.k=='z'?'normal':'italic'"}},"encoding":{"y":{"field":"v","type":"quantitative","axis":null},"text":{"field":"txt"}}},
{"data":{"name":"ann"},"transform":[{"filter":"datum.p==10"}],"mark":{"type":"text","baseline":"alphabetic","font":"Liberation Serif","align":{"expr":"(datum.k=='c'||datum.k=='cn'||datum.k=='d')?'center':'left'"},"fontSize":{"expr":"(datum.k=='s'||datum.k=='sn')?15:datum.k=='ss'?12:datum.k=='d'?19:22"},"fontStyle":{"expr":"(datum.k=='mn'||datum.k=='sn'||datum.k=='cn')?'normal':'italic'"}},"encoding":{"y":{"field":"v","type":"quantitative","axis":null},"text":{"field":"txt"},"color":{"field":"s","type":"nominal","legend":null}}}
]},
{"width":704,"height":102,
"encoding":{"x":{"field":"t","type":"quantitative","axis":null,"scale":{"domain":[0,41.63],"nice":false,"zero":false}}},
"layer":[
{"data":{"name":"shade"},"mark":{"type":"rect","color":"#bcbec0"},"encoding":{"x2":{"field":"t2"}}},
{"data":{"name":"ev"},"transform":[{"filter":"datum.g!='d'"}],"mark":{"type":"rule","color":"#2a2a2a","strokeWidth":1,"strokeDash":[3,2]},"encoding":{}},
{"data":{"name":"box"},"transform":[{"filter":"datum.p==11"}],"mark":{"type":"rect","color":"white"},"encoding":{"x2":{"field":"t2"},"y":{"field":"v","type":"quantitative","axis":null},"y2":{"field":"v2"}}},
{"data":{"name":"lev"},"transform":[{"filter":"datum.p==11"}],"mark":{"type":"rule","color":"#2a2a2a","strokeWidth":1,"strokeDash":[3,2]},"encoding":{"x2":{"field":"t2"},"y":{"field":"v","type":"quantitative","axis":null}}},
{"data":{"name":"br"},"transform":[{"filter":"datum.p==11"}],"mark":{"type":"rule","color":"#2a2a2a","strokeWidth":1},"encoding":{"x2":{"field":"t2"},"y":{"field":"v","type":"quantitative","axis":null},"y2":{"field":"v2"},"strokeDash":{"field":"k","type":"nominal","legend":null,"scale":{"domain":["d","s"],"range":[[3,2],[1,0]]}}}},
{"data":{"name":"sig"},"transform":[{"filter":"datum.p==11"}],"mark":{"type":"line","interpolate":"step-after","strokeWidth":2.7},"encoding":{"y":{"field":"v","type":"quantitative","axis":null,"scale":{"domain":[-0.1917,5.0933],"nice":false,"zero":false}},"color":{"field":"s","type":"nominal","legend":null,"scale":{"domain":["s1","s2","s3","s4","s5","s6","s7","s8","vLm1","vLm2","vsec","isec","iDo1","iDo2","iLm1","iLm2","iD1","iD2","iD3","iD4","blk"],"range":["#3e5ead","#ec1d25","#f68b3c","#1b8a43","#3e5ead","#ec1d25","#f68b3c","#1b8a43","#3e5ead","#3e5ead","#ec1d25","#ec1d25","#ec1d25","#ec1d25","#ec1d25","#ec1d25","#3e5ead","#ec1d25","#f68b3c","#1b8a43","#1a1a1a"]}}}},
{"data":{"values":[{}]},"mark":{"type":"rule","color":"#111","strokeWidth":3},"encoding":{"x":{"datum":0,"axis":null},"x2":{"datum":41.2},"y":{"datum":-0.114,"axis":null}}},
{"data":{"values":[{}]},"mark":{"type":"rule","color":"#111","strokeWidth":3},"encoding":{"x":{"datum":0,"axis":null},"y":{"datum":-0.114,"axis":null},"y2":{"datum":4.212}}},
{"data":{"values":[{}]},"mark":{"type":"point","shape":"M1,0L-0.9,-0.6L-0.45,0L-0.9,0.6Z","filled":true,"opacity":1,"color":"#111","size":170,"strokeWidth":0},"encoding":{"x":{"datum":41.2,"axis":null},"y":{"datum":-0.114,"axis":null}}},
{"data":{"values":[{}]},"mark":{"type":"point","shape":"M0,-1L0.6,0.9L0,0.45L-0.6,0.9Z","filled":true,"opacity":1,"color":"#111","size":170,"strokeWidth":0},"encoding":{"x":{"datum":0,"axis":null},"y":{"datum":4.212,"axis":null}}},
{"data":{"name":"yl"},"transform":[{"filter":"datum.p==11"}],"mark":{"type":"text","align":"right","baseline":"middle","font":"Liberation Serif","color":"#1a1a1a","dx":{"expr":"datum.k=='c'?-36:datum.k=='d'?-105:datum.k=='e'?-80:datum.k=='f'?-42:-13"},"fontSize":{"expr":"(datum.k=='b'||datum.k=='e')?14:22"},"fontStyle":{"expr":"datum.k=='z'?'normal':'italic'"}},"encoding":{"y":{"field":"v","type":"quantitative","axis":null},"text":{"field":"txt"}}},
{"data":{"name":"ann"},"transform":[{"filter":"datum.p==11"}],"mark":{"type":"text","baseline":"alphabetic","font":"Liberation Serif","align":{"expr":"(datum.k=='c'||datum.k=='cn'||datum.k=='d')?'center':'left'"},"fontSize":{"expr":"(datum.k=='s'||datum.k=='sn')?15:datum.k=='ss'?12:datum.k=='d'?19:22"},"fontStyle":{"expr":"(datum.k=='mn'||datum.k=='sn'||datum.k=='cn')?'normal':'italic'"}},"encoding":{"y":{"field":"v","type":"quantitative","axis":null},"text":{"field":"txt"},"color":{"field":"s","type":"nominal","legend":null}}}
]}
]
}
